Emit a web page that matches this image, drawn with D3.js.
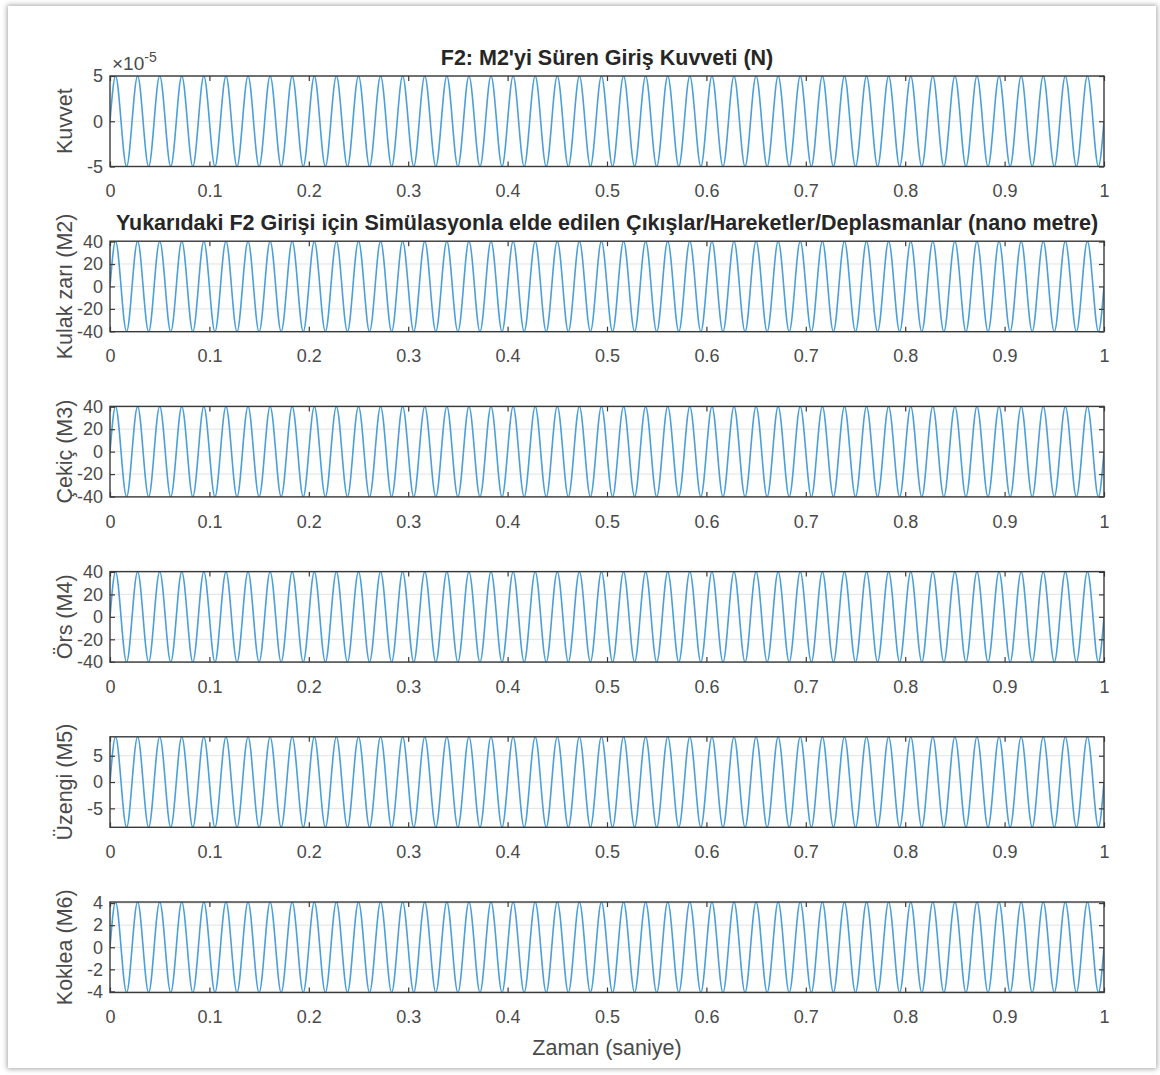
<!DOCTYPE html>
<html>
<head>
<meta charset="utf-8">
<script src="https://cdn.jsdelivr.net/npm/d3@7"></script>
<style>
  body { margin: 0; background: #fff; }
  #frame {
    position: absolute; left: 8px; top: 6px; width: 1148px; height: 1062px;
    background: #fff; box-shadow: 0 0 5px 1px rgba(0, 0, 0, 0.35);
  }
  #chart { position: absolute; left: 0; top: 0; }
  text { font-family: "Liberation Sans", Arial, sans-serif; }
</style>
</head>
<body>
<div id="frame"></div>
<div id="chart"></div>
<script>
// time axis ticks (seconds)
var timeTicks = [0, 0.1, 0.2, 0.3, 0.4, 0.5, 0.6, 0.7, 0.8, 0.9, 1];

// knots of the 45 Hz wave: zero crossings and extrema (ms)
var knotMs = [
  0, 5.6, 11.1, 16.7, 22.2, 27.8, 33.3, 38.9, 44.4, 50, 55.6, 61.1, 66.7, 72.2, 77.8, 83.3, 88.9, 94.4,
  100, 105.6, 111.1, 116.7, 122.2, 127.8, 133.3, 138.9, 144.4, 150, 155.6, 161.1, 166.7, 172.2, 177.8, 183.3, 188.9, 194.4,
  200, 205.6, 211.1, 216.7, 222.2, 227.8, 233.3, 238.9, 244.4, 250, 255.6, 261.1, 266.7, 272.2, 277.8, 283.3, 288.9, 294.4,
  300, 305.6, 311.1, 316.7, 322.2, 327.8, 333.3, 338.9, 344.4, 350, 355.6, 361.1, 366.7, 372.2, 377.8, 383.3, 388.9, 394.4,
  400, 405.6, 411.1, 416.7, 422.2, 427.8, 433.3, 438.9, 444.4, 450, 455.6, 461.1, 466.7, 472.2, 477.8, 483.3, 488.9, 494.4,
  500, 505.6, 511.1, 516.7, 522.2, 527.8, 533.3, 538.9, 544.4, 550, 555.6, 561.1, 566.7, 572.2, 577.8, 583.3, 588.9, 594.4,
  600, 605.6, 611.1, 616.7, 622.2, 627.8, 633.3, 638.9, 644.4, 650, 655.6, 661.1, 666.7, 672.2, 677.8, 683.3, 688.9, 694.4,
  700, 705.6, 711.1, 716.7, 722.2, 727.8, 733.3, 738.9, 744.4, 750, 755.6, 761.1, 766.7, 772.2, 777.8, 783.3, 788.9, 794.4,
  800, 805.6, 811.1, 816.7, 822.2, 827.8, 833.3, 838.9, 844.4, 850, 855.6, 861.1, 866.7, 872.2, 877.8, 883.3, 888.9, 894.4,
  900, 905.6, 911.1, 916.7, 922.2, 927.8, 933.3, 938.9, 944.4, 950, 955.6, 961.1, 966.7, 972.2, 977.8, 983.3, 988.9, 994.4,
  1000
];

// normalised level at each knot (0 = crossing, 1 = peak, -1 = trough)
var knotLevel = [
  0, 1, 0, -1, 0, 1, 0, -1, 0, 1, 0, -1, 0, 1, 0, -1, 0, 1,
  0, -1, 0, 1, 0, -1, 0, 1, 0, -1, 0, 1, 0, -1, 0, 1, 0, -1,
  0, 1, 0, -1, 0, 1, 0, -1, 0, 1, 0, -1, 0, 1, 0, -1, 0, 1,
  0, -1, 0, 1, 0, -1, 0, 1, 0, -1, 0, 1, 0, -1, 0, 1, 0, -1,
  0, 1, 0, -1, 0, 1, 0, -1, 0, 1, 0, -1, 0, 1, 0, -1, 0, 1,
  0, -1, 0, 1, 0, -1, 0, 1, 0, -1, 0, 1, 0, -1, 0, 1, 0, -1,
  0, 1, 0, -1, 0, 1, 0, -1, 0, 1, 0, -1, 0, 1, 0, -1, 0, 1,
  0, -1, 0, 1, 0, -1, 0, 1, 0, -1, 0, 1, 0, -1, 0, 1, 0, -1,
  0, 1, 0, -1, 0, 1, 0, -1, 0, 1, 0, -1, 0, 1, 0, -1, 0, 1,
  0, -1, 0, 1, 0, -1, 0, 1, 0, -1, 0, 1, 0, -1, 0, 1, 0, -1,
  0
];

var panelLabels = ["Kuvvet", "Kulak zarı (M2)", "Çekiç (M3)", "Örs (M4)", "Üzengi (M5)", "Koklea (M6)"];
var panelPeaks = [5e-5, 40.3, 40.3, 40.3, 8.6, 4.1];
var panelTicks = [
  [-5e-5, 0, 5e-5],
  [-40, -20, 0, 20, 40],
  [-40, -20, 0, 20, 40],
  [-40, -20, 0, 20, 40],
  [-5, 0, 5],
  [-4, -2, 0, 2, 4]
];
var panelTitles = [
  "F2: M2'yi Süren Giriş Kuvveti (N)",
  "Yukarıdaki F2 Girişi için Simülasyonla elde edilen Çıkışlar/Hareketler/Deplasmanlar (nano metre)",
  "", "", "", ""
];
var xLabel = "Zaman (saniye)";

var svgWidth = 1160;
var svgHeight = 1075;
var left = 110, right = 1104;
var firstTop = 76, step = 165.2, plotHeight = 90.5;

var svg = d3.select("#chart").append("svg")
  .attr("width", svgWidth)
  .attr("height", svgHeight);

var xScale = d3.scaleLinear().domain([0, 1]).range([left, right]);

var lineColor = "#4a9fda";
var boxColor = "#3a3a3a";
var textColor = "#4a4a4a";

panelLabels.forEach(function (label, i) {
  var top = firstTop + i * step;
  var peak = panelPeaks[i];
  var yScale = d3.scaleLinear().domain([-peak, peak]).range([top + plotHeight, top]);

  var g = svg.append("g");

  // clip
  svg.append("clipPath").attr("id", "clip" + i)
    .append("rect")
    .attr("x", left).attr("y", top)
    .attr("width", right - left).attr("height", plotHeight);

  // horizontal grid
  g.selectAll("line.grid")
    .data(panelTicks[i])
    .enter()
    .append("line")
    .attr("class", "grid")
    .attr("x1", left).attr("x2", right)
    .attr("y1", function (d) { return yScale(d); })
    .attr("y2", function (d) { return yScale(d); })
    .attr("stroke", "#e2e2e2")
    .attr("stroke-width", 1);

  // wave
  var data = knotMs.map(function (ms, k) {
    return { t: ms / 1000, v: knotLevel[k] * peak };
  });
  var line = d3.line()
    .x(function (d) { return xScale(d.t); })
    .y(function (d) { return yScale(d.v); })
    .curve(d3.curveNatural);

  g.append("path")
    .datum(data)
    .attr("clip-path", "url(#clip" + i + ")")
    .attr("d", line)
    .attr("fill", "none")
    .attr("stroke", lineColor)
    .attr("stroke-width", 1.6);

  // axes (ticks inside, box style)
  var xAxis = d3.axisBottom(xScale)
    .tickValues(timeTicks)
    .tickSize(-5)
    .tickPadding(18)
    .tickFormat(function (d) { return String(d); });
  var xAxisTop = d3.axisTop(xScale).tickValues(timeTicks).tickSize(-5).tickFormat("");

  var yFmt = i === 0
    ? function (d) { return String(Math.round(d / 1e-5)); }
    : function (d) { return String(d); };
  var yAxis = d3.axisLeft(yScale).tickValues(panelTicks[i]).tickSize(-5).tickPadding(7).tickFormat(yFmt);
  var yAxisRight = d3.axisRight(yScale).tickValues(panelTicks[i]).tickSize(-5).tickFormat("");

  var axes = [
    g.append("g").attr("transform", "translate(0," + (top + plotHeight) + ")").call(xAxis),
    g.append("g").attr("transform", "translate(0," + top + ")").call(xAxisTop),
    g.append("g").attr("transform", "translate(" + left + ",0)").call(yAxis),
    g.append("g").attr("transform", "translate(" + right + ",0)").call(yAxisRight)
  ];
  axes.forEach(function (a) {
    a.select(".domain").remove();
    a.selectAll("line").attr("stroke", boxColor).attr("stroke-width", 1.2);
    a.selectAll("text")
      .attr("fill", textColor)
      .style("font-size", "18px")
      .style("font-family", "'Liberation Sans', Arial, sans-serif");
  });

  g.append("rect")
    .attr("x", left).attr("y", top)
    .attr("width", right - left).attr("height", plotHeight)
    .attr("fill", "none")
    .attr("stroke", boxColor)
    .attr("stroke-width", 1.4);

  // y label
  g.append("text")
    .attr("transform", "translate(72," + (top + plotHeight / 2) + ") rotate(-90)")
    .style("text-anchor", "middle")
    .style("font-size", "21.5px")
    .attr("fill", textColor)
    .text(label);

  if (panelTitles[i]) {
    g.append("text")
      .attr("x", (left + right) / 2)
      .attr("y", top - 11)
      .style("text-anchor", "middle")
      .style("font-size", "21.5px")
      .style("font-weight", "bold")
      .attr("fill", "#262626")
      .text(panelTitles[i]);
  }

  if (i === 0) {
    var ex = g.append("text")
      .attr("x", left + 2)
      .attr("y", top - 6)
      .style("font-size", "19px")
      .attr("fill", textColor);
    ex.append("tspan").text("×10");
    ex.append("tspan").attr("dy", -8).style("font-size", "14px").text("-5");
  }
});

svg.append("text")
  .attr("x", (left + right) / 2)
  .attr("y", 1055)
  .style("text-anchor", "middle")
  .style("font-size", "21.5px")
  .attr("fill", textColor)
  .text(xLabel);
</script>
</body>
</html>
